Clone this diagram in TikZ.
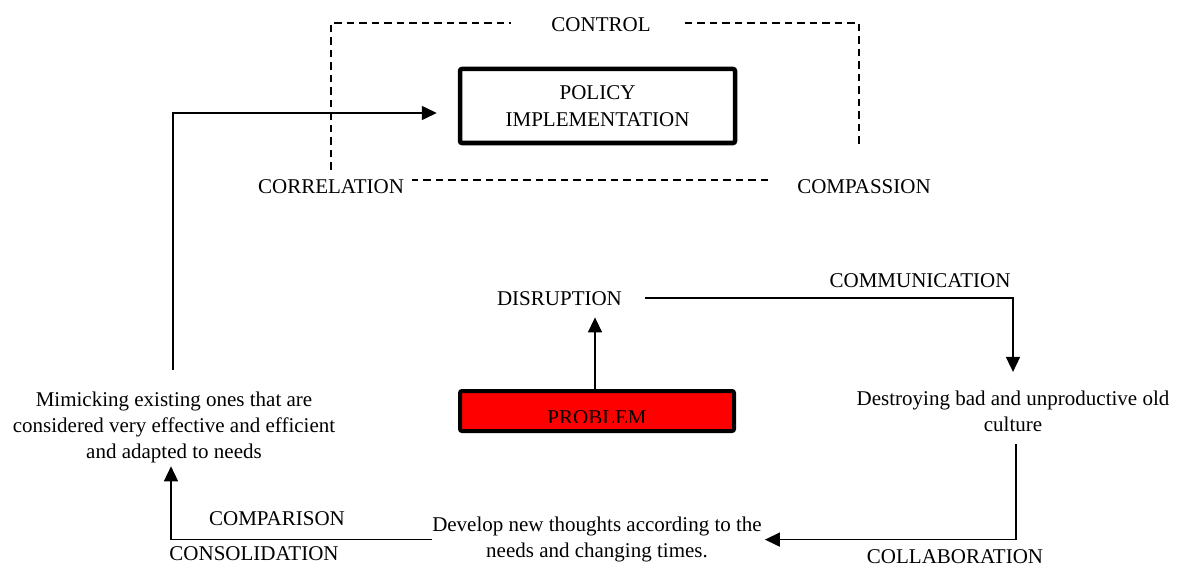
\documentclass[tikz,border=0pt]{standalone}
\usepackage{fontspec}
\setmainfont{Liberation Serif}
\usetikzlibrary{arrows.meta,positioning,calc}
\definecolor{ProbRed}{HTML}{FF0000}
\tikzset{
  % Plain label text
  lbl/.style={inner sep=0pt, font=\fontsize{21}{26}\selectfont, align=center},
  % Thick framed box
  tbox/.style={
    rectangle, rounded corners=2pt,
    draw=black, line width=#1,
    minimum width=275pt, inner sep=0pt,
    align=center, font=\fontsize{21}{27}\selectfont
  },
  % Arrow
  arr/.style={-{Triangle[length=15pt,width=14pt]}, line width=1.6pt, color=black},
  % Dashed frame line
  dsh/.style={dash pattern=on 7.5pt off 5pt, line width=1.5pt}
}

\begin{document}
\begin{tikzpicture}[x=1pt,y=-1pt]
  \useasboundingbox (0,0) rectangle (1180,567);

  % Upper frame labels
  \node[lbl, anchor=base] (ctrl) at (601,32)  {CONTROL};
  \node[lbl, anchor=base] (corr) at (331,193) {CORRELATION};
  \node[lbl, anchor=base] (comp) at (864,193) {COMPASSION};

  % Policy box
  \node[tbox=4.5pt, minimum height=74pt] (pol) at (597.5,106) {POLICY\\IMPLEMENTATION};

  % Dashed frame round the policy box
  \draw[dsh] ([yshift=9pt]corr.north) |- ([xshift=-40pt,yshift=2pt]ctrl.west);
  \draw[dsh] ([xshift=34pt,yshift=2pt]ctrl.east) -| ([xshift=-5pt,yshift=31pt]comp.north);
  \draw[dsh] ([xshift=-29pt,yshift=6pt]comp.west) -- ([xshift=8pt,yshift=6pt]corr.east);

  % Problem and disruption
  \node[tbox=4pt, fill=ProbRed, minimum width=274pt, minimum height=40pt] (prob) at (597,411) {};
  \begin{scope}
    \clip ([xshift=3pt,yshift=-3pt]prob.north west) rectangle ([xshift=-3pt,yshift=11pt]prob.south east);
    \node[lbl, anchor=base] (probtxt) at (597,424) {PROBLEM};
  \end{scope}
  \node[lbl, anchor=base] (dis) at (559.5,305) {DISRUPTION};
  \draw[arr] ([xshift=-2pt]prob.north) -- ([xshift=-2pt,yshift=-12pt]prob.north |- dis.south);

  % Cycle of steps
  \node[lbl] (des) at (1013,411.5) {Destroying bad and unproductive old\\culture};
  \node[lbl] (dev) at (597,539.6)  {Develop new thoughts according to the\\needs and changing times.};
  \node[lbl] (mim) at (174,427.6)  {Mimicking existing ones that are\\considered very effective and efficient\\and adapted to needs};

  \draw[arr] ([xshift=23pt]dis.east) -| ([yshift=19pt]des.north);
  \draw[arr] ([xshift=3pt,yshift=-12pt]des.south) |- ([xshift=3pt]dev.east);
  \draw[arr] (dev.west) -| ([xshift=-3pt,yshift=-3pt]mim.south);
  \draw[arr] ([xshift=-1pt,yshift=22pt]mim.north) |- ([xshift=-21pt,yshift=-7pt]pol.west);

  % Connector labels
  \node[lbl, anchor=base] (comm) at (920,287) {COMMUNICATION};
  \node[lbl, anchor=base] (coll) at (955,563) {COLLABORATION};
  \node[lbl, anchor=base] (cmpr) at (277,525) {COMPARISON};
  \node[lbl, anchor=base] (cons) at (254,560) {CONSOLIDATION};

\end{tikzpicture}
\end{document}
